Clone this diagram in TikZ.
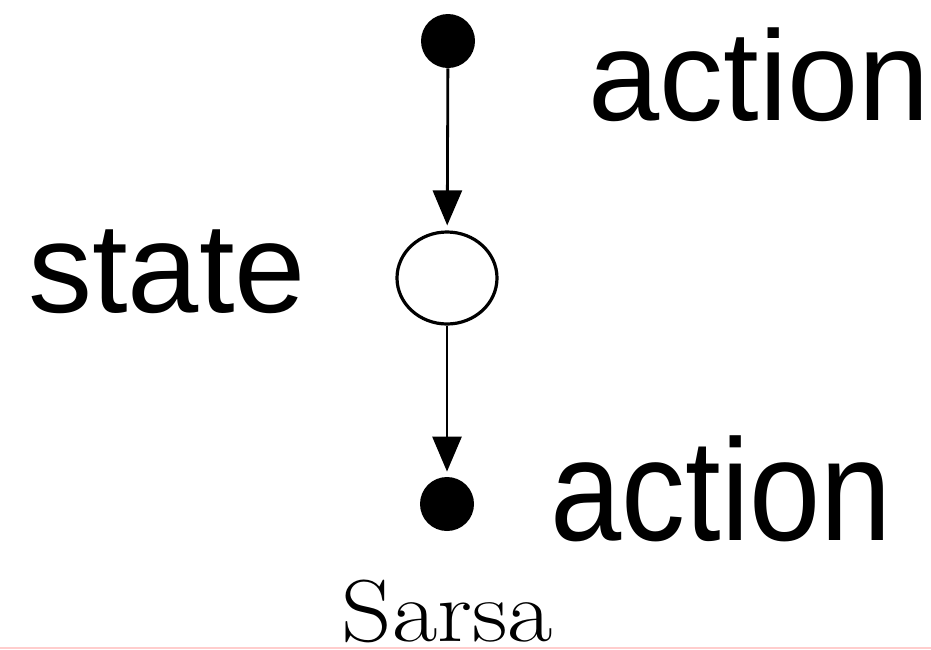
\documentclass[tikz,border=0pt]{standalone}
\usepackage{fontspec}
\usepackage{tikz}
\usetikzlibrary{positioning}
\usetikzlibrary{arrows.meta}
\usetikzlibrary{shapes.geometric}
\newfontfamily\labelfont{Liberation Sans}
\definecolor{edgepink}{RGB}{255,205,205}

\begin{document}
\begin{tikzpicture}[x=0.5pt, y=-0.5pt,
    dot/.style={circle, fill=black, inner sep=0pt, minimum size=27pt},
    statenode/.style={ellipse, draw=black, line width=1.6pt, fill=white, inner sep=0pt, minimum width=50pt, minimum height=46pt},
    lbl/.style={anchor=base west, inner sep=0pt, font=\labelfont\fontsize{64}{64}\selectfont},
    backup/.style={-{Triangle[width=14.5pt, length=17.5pt]}, line width=1.4pt, shorten >=2.5pt}]
    \useasboundingbox (0, 0) rectangle (931, 649);
    \node[dot] (a1) at (448, 41) {};
    \node[statenode] (s) at (447, 278) {};
    \node[dot] (a2) at (447, 504) {};
    \draw[black, backup] (a1) -- (s);
    \draw[black, backup] (s) -- (a2);
    \node[lbl] (ta1) at (588, 120) {action};
    \node[lbl] (ts) at (28, 312) {state};
    \node[lbl, yscale=1.13, transform shape] (ta2) at (550, 540) {action};
    \node[anchor=base, inner sep=0pt, xscale=1.12, transform shape, font=\fontsize{44}{44}\selectfont] (cap) at (447.5, 641) {Sarsa};
    \draw[edgepink, line width=1pt] (0, 647.5) -- (931, 647.5);
\end{tikzpicture}
\end{document}
